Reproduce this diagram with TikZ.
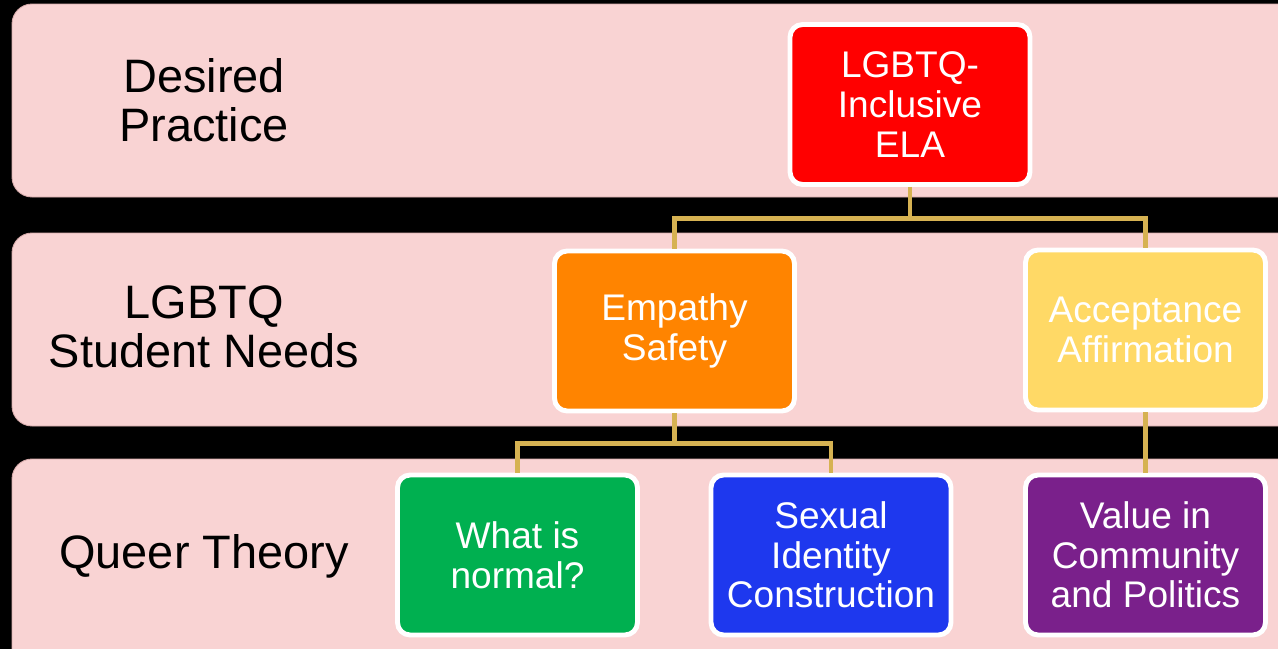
\documentclass[tikz,border=0pt]{standalone}
\usepackage{fontspec}
\setmainfont{Liberation Sans}
\usetikzlibrary{positioning}
\definecolor{bandpink}{RGB}{249,211,211}
\definecolor{bandedge}{RGB}{214,170,170}
\definecolor{linkgold}{RGB}{214,178,82}
\definecolor{elared}{RGB}{255,0,0}
\definecolor{needorange}{RGB}{255,132,0}
\definecolor{needyellow}{RGB}{255,217,102}
\definecolor{theorygreen}{RGB}{0,176,80}
\definecolor{theoryblue}{RGB}{30,56,238}
\definecolor{theorypurple}{RGB}{122,32,139}

\begin{document}
\begin{tikzpicture}[
    x=0.02cm, y=-0.02cm,
    band/.style={
        fill=bandpink, draw=bandedge, line width=0.5pt,
        rounded corners=0.4cm
    },
    bandlabel/.style={
        font=\fontsize{26.7}{27.9}\selectfont,
        align=center, text=black
    },
    box/.style={
        rectangle, draw=white, line width=2.8pt, rounded corners=0.25cm,
        minimum width=4.8cm, minimum height=3.2cm,
        align=center, text=white,
        font=\fontsize{21.1}{22.6}\selectfont
    },
    link/.style={
        draw=linkgold, line width=2.5pt
    }
]

\fill[black] (0,0) rectangle (1278,649);
\clip (0,0) rectangle (1278,649);

% level bands
\draw[band] (12,4) rectangle (1320,197);
\draw[band] (12,233) rectangle (1320,426);
\draw[band] (12,459) rectangle (1320,700);

\node[bandlabel] (practice) at (204,100) {Desired\\Practice};
\node[bandlabel] (needs) at (204,327) {LGBTQ\\Student Needs};
\node[bandlabel] (theory) at (204,556) {Queer Theory};

% boxes
\node[box, fill=elared] (ela) at (910,104.5) {LGBTQ-\\Inclusive\\ELA};
\node[box, fill=needorange] (empathy) at (674.5,331) {Empathy\\Safety};
\node[box, fill=needyellow] (accept) at (1145.5,330) {Acceptance\\Affirmation};
\node[box, fill=theorygreen] (normal) at (517.5,555) {What is\\normal?};
\node[box, fill=theoryblue] (identity) at (831,555) {Sexual\\Identity\\Construction};
\node[box, fill=theorypurple] (value) at (1145.5,555) {Value in\\Community\\and Politics};

% connectors
\draw[link] (ela.south) -- ++(0,31.5) coordinate (elasplit);
\draw[link] (empathy.north) |- (elasplit) -| (accept.north);
\draw[link] (empathy.south) -- ++(0,30) coordinate (empsplit);
\draw[link] (normal.north) |- (empsplit) -| (identity.north);
\draw[link] (accept.south) -- (value.north);

\end{tikzpicture}
\end{document}
